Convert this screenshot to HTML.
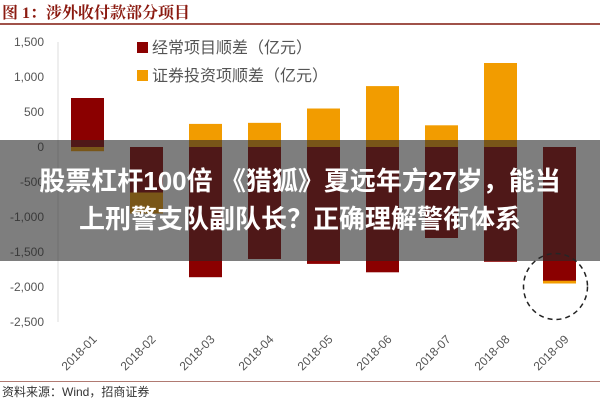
<!DOCTYPE html>
<html><head><meta charset="utf-8"><style>
body{margin:0;background:#fff;width:600px;height:400px;overflow:hidden;position:relative;font-family:"Liberation Sans","Noto Sans CJK SC",sans-serif}
</style></head><body>
<div style="position:absolute;left:2px;top:0px;font:bold 16px 'Liberation Serif','Noto Serif CJK SC',serif;color:#8b1a10">图 1：涉外收付款部分项目</div>
<div style="position:absolute;left:0;top:23px;width:600px;height:2px;background:#a0524a"></div>
<svg id="c" width="600" height="400" style="position:absolute;left:0;top:0"></svg>
<div style="position:absolute;left:0;top:140px;width:600px;height:121px;background:rgba(40,40,40,0.6)"></div>
<div style="position:absolute;left:0;top:162px;width:600px;text-align:center;color:#fff;font:bold 26px 'Liberation Sans','Noto Sans CJK SC',sans-serif;line-height:38px">股票杠杆100倍 《猎狐》夏远年方27岁，能当<br>上刑警支队副队长？正确理解警衔体系</div>
<div style="position:absolute;left:0;top:381px;width:600px;height:1px;background:#b07a72"></div>
<div style="position:absolute;left:2px;top:383px;font-size:12px;color:#333">资料来源：Wind，招商证券</div>
<script>
const categories=["2018-01","2018-02","2018-03","2018-04","2018-05","2018-06","2018-07","2018-08","2018-09"];
const currentAccount=[700,-650,-1860,-1600,-1670,-1790,-1300,-1640,-1910];
const securities=[-60,-950,330,345,550,870,310,1200,-1950];
const yTicks=[1500,1000,500,0,-500,-1000,-1500,-2000,-2500];
const tickLabels=["1,500","1,000","500","0","-500","-1,000","-1,500","-2,000","-2,500"];
const NS="http://www.w3.org/2000/svg",svg=document.getElementById('c');
const x0=58,bw=59,y=v=>147-v*0.07;
const cx=i=>x0+bw*(i+0.5);
function mk(t,a){const e=document.createElementNS(NS,t);for(const k in a)e.setAttribute(k,a[k]);svg.appendChild(e);return e;}
yTicks.forEach((v,i)=>{
 const t=mk('text',{x:44,y:y(v)+4,'text-anchor':'end','font-size':12,fill:'#555'});t.textContent=tickLabels[i];
 
 
});
const ax=mk('line',{x1:x0,x2:x0,y1:y(1500),y2:y(-2500),stroke:'#ddd'});


securities.forEach((v,i)=>{
 const r=mk('rect',{x:cx(i)-16.5,width:33,y:Math.min(y(v),y(0)),height:Math.abs(y(v)-y(0)),fill:'#f29c00'});
 
 
});
currentAccount.forEach((v,i)=>{
 const r=mk('rect',{x:cx(i)-16.5,width:33,y:Math.min(y(v),y(0)),height:Math.abs(y(v)-y(0)),fill:'#8b0000'});
 
 
});
categories.forEach((c,i)=>{
 const t=mk('text',{x:cx(i)+10,y:340,'text-anchor':'end','font-size':12,fill:'#555',transform:`rotate(-45 ${cx(i)+10} 340)`});t.textContent=c;
 
 
});
const ci=mk('ellipse',{cx:cx(8)-4,cy:y(-1950)+3,rx:32,ry:33,fill:'none',stroke:'#222','stroke-width':1.5,'stroke-dasharray':'5,4'});


[["#8b0000","经常项目顺差（亿元）",48],["#f29c00","证券投资项顺差（亿元）",76]].forEach(([col,txt,yy])=>{
 const r=mk('rect',{x:137,y:yy-6,width:11,height:11,fill:col});
 
 
 const t=mk('text',{x:152,y:yy+5,'font-size':16,fill:'#555'});t.textContent=txt;
 
 
});
</script>
</body></html>
